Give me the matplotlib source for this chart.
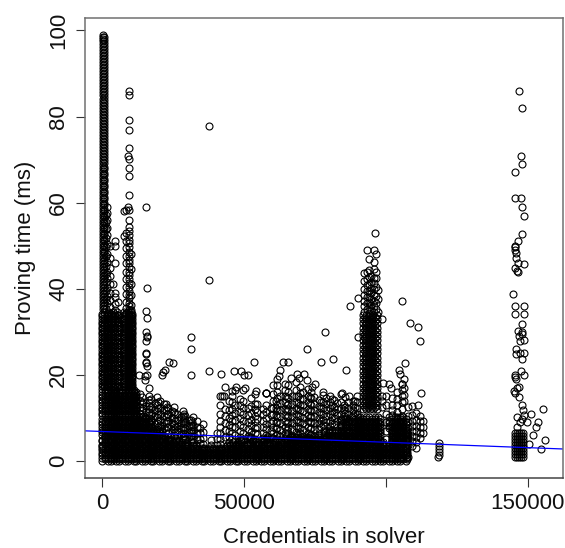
import matplotlib
matplotlib.use("Agg")
import matplotlib.pyplot as plt

plt.rcParams["font.family"] = ["Liberation Sans", "DejaVu Sans"]

# credentials are in thousands in all the lists below
intercept = 6.85
slope = -2.5e-5

outlier_x = [9.3, 9.3, 9.3, 9.3, 9.3, 9.2, 9.3, 9.3, 9.3, 9.3, 9.2, 9.3, 9.3, 15.5, 7.8, 8.2, 4.6, 4.6, 7.5, 37.5,
             4.6, 3.8, 4.5, 15.6, 15.4, 15.6, 15.5, 15.6, 15.6, 15.5, 15.4, 15.3, 15.5, 15.4, 15.8, 15.6, 15.2, 15.1, 12.9,
             23.5, 24.8, 22.1, 21.5, 20.9, 31.3, 31.3, 31.1, 37.5, 37.5, 41.8, 46.4, 48.8, 49.9, 51.2, 53.5,
             43.2, 46.8, 47.0, 50.4, 54.2, 57.7, 42.2, 42.9, 45.8,
             78.4, 72.2, 77.0, 81.2, 85.9, 87.2, 90.0, 90.2, 63.6, 65.4, 62.6, 62.3, 61.7,
             68.7, 66.5, 69.3, 71.0, 72.2, 75.0, 73.8, 57.7, 77.9, 84.4, 87.0,
             96.1, 93.3, 95.6, 96.4, 93.9, 95.9, 105.8, 108.4, 111.3, 112.0, 98.7,
             106.6, 104.7, 105.1, 106.4, 105.7, 98.8, 100.9, 101.6, 112.5, 111.3,
             118.5, 118.5, 118.5, 118.5, 118.6, 118.4,
             147.0, 147.8, 147.4, 148.0, 145.4, 145.3, 147.5, 147.8, 148.6, 147.8, 146.5, 145.6, 145.5, 145.6, 145.8, 145.8,
             146.6, 148.6, 145.3, 146.2, 146.6, 144.8, 145.4, 148.6, 145.4, 148.6, 147.8, 146.6, 148.1, 148.0,
             146.9, 147.2, 148.6, 145.8, 145.7, 147.2, 148.6, 148.1, 147.4, 148.6, 145.3, 145.3, 145.8,
             146.8, 146.2, 145.0, 145.3, 146.7, 147.8, 148.3, 148.6, 146.2, 147.8, 149.8, 147.2, 146.0,
             155.3, 151.2, 153.6, 152.8, 151.9, 156.1, 154.5, 150.5]
outlier_y = [85.9, 85.1, 79.2, 76.8, 72.8, 70.9, 70.2, 68.1, 66.1, 61.9, 59.0, 58.2, 55.9, 58.9, 58.0, 58.2, 51.0, 49.9, 52.2, 77.8,
             46.0, 41.0, 39.0, 40.2, 34.9, 33.1, 29.9, 29.1, 28.8, 27.8, 25.1, 24.9, 23.1, 22.8, 22.0, 20.0, 19.8, 18.9, 20.0,
             23.1, 22.8, 21.2, 20.6, 20.0, 28.8, 26.1, 20.0, 42.1, 21.0, 20.1, 20.9, 21.0, 20.0, 19.9, 23.1,
             17.1, 16.6, 17.3, 16.9, 16.2, 15.9, 15.2, 15.0, 16.3,
             30.0, 26.1, 23.1, 23.8, 21.1, 35.9, 37.9, 28.8, 23.0, 23.1, 21.2, 19.8, 19.0,
             20.3, 19.2, 19.2, 20.1, 18.9, 18.0, 17.3, 15.9, 16.0, 15.9, 15.2,
             53.0, 48.9, 49.0, 48.1, 47.0, 46.2, 37.1, 32.1, 31.1, 27.9, 33.0,
             22.8, 21.1, 20.2, 19.0, 18.0, 18.1, 18.0, 17.0, 15.9, 13.1,
             4.1, 3.4, 2.8, 2.2, 1.5, 0.9,
             86.0, 82.0, 70.9, 69.0, 67.1, 61.2, 61.0, 59.0, 56.9, 52.8, 51.1, 50.0, 49.7, 49.1, 48.3, 47.1,
             46.0, 45.8, 44.9, 44.1, 43.8, 38.8, 36.1, 35.9, 34.1, 34.1, 31.9, 30.1, 30.0, 29.5,
             29.0, 27.9, 28.0, 25.9, 24.9, 25.1, 25.1, 23.8, 21.0, 20.0, 20.0, 19.5, 19.0,
             17.2, 17.0, 16.2, 15.8, 14.9, 12.9, 11.9, 10.7, 10.2, 9.7, 9.0, 9.0, 8.0,
             12.1, 10.9, 9.1, 8.0, 6.1, 4.9, 2.9, 4.0]

# the tall spike near zero
spike_a = [99, 98.6, 98.1, 97.5, 96.8, 96.1, 95.4, 94.7, 94, 93.3, 92.6, 91.9, 91.2, 90.5, 89.8, 89.1, 88.4, 87.7,
           87, 86.3, 85.6, 84.9, 84.2, 83.5, 82.8, 82.1, 81.4, 80.7, 80, 79.3, 78.6, 77.9, 77.2, 76.5, 75.8, 75.1,
           74.4, 73.7, 73, 72.3, 71.6, 70.9, 70.2, 69.5, 68.8, 68.1, 67.4, 66.7, 66, 65.3, 64.6, 63.9, 63.2, 62.5,
           61.8, 61.1, 60.4, 59.7, 59, 58.3, 57.6, 56.9, 56.2, 55.5, 54.8, 54.1, 53.4, 52.7, 52, 51.3, 50.6, 49.9,
           49.2, 48.5, 47.8, 47.1, 46.4, 45.7, 45, 44.3, 43.6, 42.9, 42.2, 41.5, 40.8, 40.1, 39.4, 38.7, 38, 37.3,
           36.6, 35.9, 35.2]
spike_b = [98.4, 97.8, 97.1, 96.4, 95.8, 95, 94.4, 93.6, 93, 92.2, 91.6, 90.8, 90.2, 89.4, 88.8, 88, 87.4, 86.6,
           86, 85.2, 84.6, 83.8, 83.2, 82.4, 81.8, 81, 80.4, 79.6, 79, 78.2, 77.6, 76.8, 76.2, 75.4, 74.8, 74,
           73.4, 72.6, 72, 71.2, 70.6, 69.8, 69.2, 68.4, 67.8, 67, 66.4, 65.6, 65, 64.2, 63.6, 62.8, 62.2, 61.4,
           60.8, 60, 59.4, 58.6, 58, 57.2, 56.6, 55.8, 55.2, 54.4, 53.8, 53, 52.4, 51.6, 51, 50.2, 49.6, 48.8,
           48.2, 47.4, 46.8, 46, 45.4, 44.6, 44, 43.2, 42.6, 41.8, 41.2, 40.4, 39.8, 39, 38.4, 37.6, 37, 36.2, 35.6]
cluster_a = [12, 13, 14, 15, 16, 17, 18, 19, 20, 21, 22, 23, 24, 25, 26, 27, 28, 29, 30, 31, 32, 33, 33.9]
cluster_b = [12.5, 13.5, 14.5, 15.5, 16.5, 17.5, 18.5, 19.5, 20.5, 21.5, 22.5, 23.5, 24.5, 25.5, 26.5, 27.5, 28.5, 29.5, 30.5, 31.5, 32.5, 33.4]

column_x = [0.1, 0.5, 1.8, 2.6, 1.2, 4.4, 5.4, 8.2, 9.3, 10.2,
            91.9, 92.5, 93.1, 93.7, 94.3, 94.9, 95.5, 96.1, 96.7,
            92.4, 93.2, 94, 94.8, 95.6, 96.4, 97,
            13.2, 14.3, 16.3, 17.2, 19.4, 20.3, 22.4, 23.2, 25.3, 26.2, 28.4, 29.1, 31.3, 32.1, 34.4, 35.6, 38.3, 40.4,
            13.9, 15.4, 16.6, 18.5, 19.6, 21.6, 22.7, 24.6, 25.7, 27.6, 28.8, 30.6, 31.7, 33.5,
            41.6, 44.5, 45.7, 48.6, 49.6, 52.4, 53.7, 56.5, 57.6, 60.3, 61.7, 64.4, 65.6, 68.3, 69.7, 72.4, 73.6, 76.3, 77.7, 80.4, 81.7, 84.3, 85.6, 88.4, 89.7,
            43.4, 46.6, 51.3, 54.6, 59.4, 61.1, 62.7, 65.2, 66.8, 69.1, 70.6, 73.2, 74.7, 77.1, 78.8, 81.1, 82.8, 85.1, 86.7, 89.2,
            98.5, 100, 102, 104, 105.5, 106.2, 107.8, 109, 110.5, 112, 113]
column_y = [spike_a, spike_b,
            [59, 57.6, 56, 54.2, 52.6, 50.4, 48, 46.2, 44, 42.4, 40.2, 38.4, 36.8],
            [50, 47.2, 44.8, 43, 41, 39, 37.4, 35.8],
            [57.2, 55.6, 53.8, 51.8, 49.6, 47.6, 45.4, 43.4, 41.6, 39.6, 37.6, 35.4],
            [35, 36.4, 33.6, 38.2],
            [34, 37, 32.4],
            [53, 51.2, 49.4, 47.6, 46, 44, 42.2, 40.4, 38.8, 37, 35.6, 34.4],
            [54.4, 53.4, 52.4, 51.4, 50.6, 49.6, 48.6, 47.6, 46.8, 46, 45, 44, 43.2, 42.2, 41.4, 40.4, 39.6, 38.6, 37.8, 36.8, 36, 35],
            [48, 44.6, 41, 38.6, 36.2, 35, 33.6],
            cluster_a, cluster_b, cluster_a, cluster_b, cluster_a, cluster_b, cluster_a, cluster_b, cluster_a,
            [34.6, 36, 37.2, 38.6, 40, 41.8, 43.6], [35.2, 36.6, 38, 39.4, 40.8, 42.2, 44], [34.4, 35.8, 37, 38.2, 39.6, 41, 42.8, 44.4],
            [35, 36.2, 37.6, 39, 40.2, 41.6, 43], [34.6, 36, 37.2, 38.6, 40, 41.4, 42.6, 44.6], [35.4, 36.8, 38.4, 40.4, 42.4, 43.8], [34.6, 37.6, 39.8],
            [8, 9.5, 11, 12.5, 14, 15.5], [7.6, 9.2, 10.5, 12.2, 13.6], [8, 9, 10.6, 12, 13.4, 15, 17], [8, 9.6, 11, 12.6, 14.4],
            [7.4, 8.8, 10.2, 11.6, 13, 14.8], [7, 8.4, 9.6, 11, 12.4, 14], [7.2, 8.8, 10.2, 11.8, 13.2], [6.6, 8, 9.4, 10.8, 12.4],
            [6, 7.4, 8.6, 10, 11.4, 12.6], [5.6, 7, 8.2, 9.6, 11], [5.4, 6.6, 8, 9.2, 10.4, 11.6], [5, 6.2, 7.6, 9, 10.4],
            [4.6, 5.8, 7, 8.4, 9.6], [4.4, 5.8, 7.2, 8.4, 10.2], [4.2, 5.2, 6.4, 7.6], [4, 5.4, 6.8, 8.6], [3.6, 4.8], [3.6, 5, 6.4],
            [8.6, 10.2, 11.8, 13.2, 14.8], [8.4, 10, 11.4, 12.8], [8.8, 10, 11.4, 12.8, 14.2], [8.6, 10.4, 11.8, 13.4],
            [8, 9.4, 11, 12.4, 13.8], [7.6, 9, 10.4, 11.8, 13.2], [8, 9.4, 11, 12.6], [7.2, 8.8, 10, 11.6],
            [6.8, 8, 9.2, 10.8], [6.2, 7.6, 8.8, 10.2], [5.8, 7.2, 8.6, 9.8, 11], [5.6, 6.8, 8.2, 9.6], [5.2, 6.4, 7.8, 9], [5, 6.4, 7.8, 9.2],
            [4, 5.2, 6.4, 7.8, 9.4, 11, 13, 15.2], [4.4, 5.6, 7, 8.4, 10, 11.8, 14], [5, 6.4, 7.8, 9.2, 10.6, 12, 13.6, 15],
            [5.6, 7, 8.4, 10, 11.4, 13, 14.4], [5, 6.6, 8, 9.4, 10.8, 12.4, 14, 16.4], [5.6, 6.8, 8.4, 9.6, 11.2, 12.8, 14.6],
            [5, 6.4, 7.6, 9, 10.4, 12, 13.2, 15.6], [5.4, 6.6, 8, 9.2, 10.8, 12], [5, 6, 7.4, 8.6, 10, 11.4, 13, 15.8],
            [5.4, 6.6, 8, 9.4, 10.8, 12.4, 14, 15.6, 17.6], [5, 6.2, 7.6, 9, 10.2, 11.8, 13, 14.6, 16, 17.6],
            [5.4, 6.6, 8, 9.4, 10.6, 12, 13.6, 15, 16.4, 18], [5, 6.4, 7.8, 9, 10.4, 12, 13.2, 14.6, 16, 17.6],
            [5.6, 6.8, 8.2, 9.6, 11, 12.2, 13.8, 15.2, 16.6, 18.4], [5, 6.4, 7.6, 9, 10.4, 11.8, 13, 14.4, 15.8, 17.2],
            [5.4, 6.6, 8, 9.4, 10.6, 12, 13.6, 15, 16.8], [5, 6.2, 7.6, 9, 10.2, 11.6, 13, 14.6, 16], [6, 7.4, 8.8, 10, 11.4, 12.8, 14.2],
            [8.4, 9.6, 11, 12.4, 13.8, 15.4], [8.2, 9.4, 10.8, 12.2, 13.6, 15], [8.6, 10, 11.4, 12.6, 14.2],
            [8.4, 9.6, 11, 12.4, 13.8, 15.6], [8.6, 10, 11.2, 12.6, 14.8], [10.6, 11.8, 13, 14], [11, 12.4, 13.6, 15.2],
            [5.6, 7.2, 8.8, 10.4, 12], [6, 7.8, 9.6, 11.2, 13], [5.8, 7.4, 9, 10.6, 12.2], [6.2, 8, 9.8, 11.4, 13.2], [5.6, 7, 8.8, 10.6, 12.4], [6, 7.4, 9, 10.6, 12.2, 14],
            [5.8, 7.2, 8.8, 10.4, 11.8, 13.4, 15], [6, 7.2, 8.8, 10.2, 11.6, 13, 14.8], [5.8, 7.4, 8.8, 10.4, 11.6, 13.2, 15], [6, 7.6, 9, 10.4, 12, 13.4, 15],
            [5.8, 7.2, 8.8, 10, 11.6, 13, 14.4, 16], [6, 7.4, 9, 10.2, 11.8, 13.2, 14.8], [5.8, 7.4, 8.8, 10.4, 11.8, 13.2, 14.8], [6.6, 8, 9.4, 10.8, 12.2, 13.6],
            [9, 10.4, 11.8, 13.2, 14.6], [8.8, 10.2, 11.6, 13, 14.4], [9.2, 10.6, 12, 13.4], [9, 10.4, 11.8, 13], [9.4, 10.8, 12.2, 13.6], [11.2, 12.6, 14],
            [12.5, 14, 15.2], [3, 5, 7, 9, 11, 13, 15], [10.6, 11.8, 13, 14.6], [10.2, 11.4, 13, 14.4, 16], [10.4, 12, 13.6, 15, 16.6, 18], [14, 15.4, 17],
            [1, 3.6, 5, 6.2, 7.6, 9, 10.4, 12.6], [3.4, 4.6, 5.8, 7, 8.2, 9.4, 10.6, 12.8], [3, 4.4, 5.6, 7, 8.2, 9.6, 11.2], [5.4, 6.6, 7.8, 9.2, 10.4], [6.6, 8, 9.4]]

band_a = [0, 2, 3, 5, 6, 8, 9, 11, 12, 14, 15, 17, 18, 20, 21, 23, 24, 26, 27, 29, 30, 32, 33, 35, 36, 38, 39, 41, 42, 44, 45, 47, 48, 50, 51, 53,
          54, 56, 57, 59, 60, 62, 63, 65, 66, 68, 69, 71, 72, 74, 75, 77, 78, 80, 81, 83, 84, 86, 87, 89, 90, 92, 93, 95, 96, 98, 99, 101, 102, 104, 105, 107]
band_b = [1, 3, 4, 6, 7, 9, 10, 12, 13, 15, 16, 18, 19, 21, 22, 24, 25, 27, 28, 30, 31, 33, 34, 36, 37, 39, 40, 42, 43, 45, 46, 48, 49, 51, 52, 54,
          55, 57, 58, 60, 61, 63, 64, 66, 67, 69, 70, 72, 73, 75, 76, 78, 79, 81, 82, 84, 85, 87, 88, 90, 91, 93, 94, 96, 97, 99, 100, 102, 103, 105, 106, 107.4]
band_c = [0, 2, 3, 5, 6, 8, 9, 11, 12, 14, 15, 17, 18, 20, 21, 23, 24, 26, 27, 29, 30, 32, 33, 44, 45, 47, 48, 50, 51, 53,
          54, 56, 57, 59, 60, 62, 63, 65, 66, 68, 69, 71, 72, 74, 75, 77, 78, 80, 81, 83, 84, 86, 87, 89, 90, 92, 93, 95, 96, 98, 99, 101, 102, 104, 105, 107]
band_d = [1, 3, 4, 6, 7, 9, 10, 12, 13, 15, 16, 18, 19, 21, 22, 24, 25, 27, 28, 30, 46, 48, 49, 51, 52, 54,
          55, 57, 58, 60, 61, 63, 64, 66, 67, 69, 70, 72, 73, 75, 76, 78, 79, 81, 82, 84, 85, 87, 88, 90, 91, 93, 94, 96, 97, 99, 102, 103, 105, 106, 107.4]
band_e = [0, 2, 3, 5, 6, 8, 9, 11, 12, 14, 15, 17, 18, 20, 21, 23, 24, 26, 27, 49, 53, 57, 61,
          63, 65, 66, 68, 69, 71, 72, 74, 75, 77, 78, 80, 81, 83, 84, 86, 87, 89, 90, 92, 93, 95, 96, 98, 102, 104, 105, 107]
band_f = [1, 3, 4, 6, 7, 9, 10, 12, 13, 15, 16, 18, 19, 21, 22, 24, 52, 58,
          66, 67, 69, 70, 72, 73, 75, 76, 78, 79, 81, 82, 84, 85, 87, 88, 90, 91, 93, 94, 96, 97, 102, 103, 105, 106, 107.4]
band_g = [0, 2, 3, 5, 6, 8, 9, 11, 12, 14, 15, 17, 18, 20, 21, 78, 80, 81, 83, 84, 86, 87, 89, 90, 92, 93, 95, 96, 98, 102, 104, 105, 107]
band_h = [1, 3, 4, 6, 7, 9, 10, 12, 13, 15, 16, 18, 19, 80, 82, 84, 85, 87, 88, 90, 91, 93, 94, 96, 97, 102, 103, 105, 106, 107.4]
band_i = [0, 2, 3, 5, 6, 8, 9, 11, 12, 14, 15, 17, 84, 86, 87, 89, 90, 92, 93, 95, 96, 98, 102, 104, 105, 107]
band_j = [1, 3, 4, 6, 7, 9, 10, 12, 13, 15, 88, 90, 91, 93, 94, 96, 97, 101, 103, 105, 106]
left_a = [0, 2, 3, 5, 6, 8, 9, 11, 12]
left_b = [1, 3, 4, 6, 7, 9, 10, 11]
left_c = [0, 1.5, 3, 4.5, 8, 9.5, 10.5]
left_d = [0.5, 2, 3.6, 5.2, 7.5, 9, 10.2]

row_x = [band_a, band_b, band_c, band_d, band_e, band_f, band_g, band_h, band_i, band_j, left_a, left_b, left_c, left_d]
row_y = [[0.1, 0.7, 1.3, 1.9, 2.5, 3.1], [0.4, 1.0, 1.6, 2.2, 2.8], [3.7, 3.4], [4.3, 4.0], [4.9, 4.6], [5.5, 5.2], [6.1, 6.7, 7.3], [5.8, 6.4, 7.0],
         [7.9, 8.5, 9.1, 9.7], [7.6, 8.2, 8.8, 9.4, 10.3],
         [10.6, 11.2, 11.8, 12.4, 13, 13.6, 14.2, 14.8, 15.4, 16], [10.9, 11.5, 12.1, 12.7, 13.3, 13.9, 14.5, 15.1, 15.7, 16.4],
         [16.8, 17.4, 18, 18.6, 19.2, 19.8, 20.4, 21, 21.6, 22.2, 22.8, 23.4, 24, 24.6, 25.2, 25.8, 26.4, 27, 27.6, 28.2, 28.8, 29.4, 30, 30.6, 31.2, 31.8, 32.4, 33, 33.6, 34.2],
         [17.1, 17.7, 18.3, 18.9, 19.5, 20.1, 20.7, 21.3, 21.9, 22.5, 23.1, 23.7, 24.3, 24.9, 25.5, 26.1, 26.7, 27.3, 27.9, 28.5, 29.1, 29.7, 30.3, 30.9, 31.5, 32.1, 32.7, 33.3, 33.9, 34.6]]

# block of runs at the right hand side
block_x = [145.3, 146.1, 146.9, 147.6, 148.2]
block_a = [0.9, 1.6, 2.3, 3.0, 3.7, 4.4, 5.1, 5.8, 6.5]

xs = list(outlier_x)
ys = list(outlier_y)
for x, col in zip(column_x, column_y):
    xs += [x] * len(col)
    ys += col
for row, levels in zip(row_x, row_y):
    for y in levels:
        xs += row
        ys += [y] * len(row)
for y in block_a:
    xs += block_x
    ys += [y] * len(block_x)

fig = plt.figure(figsize=(5.65, 5.48), dpi=100)
ax = fig.add_axes([85 / 565, 70 / 548, (562.5 - 85) / 565, (478 - 18) / 548])

ax.plot([x * 1000 for x in xs], ys, "o", mfc="none", mec="black", ms=5, mew=0.8)
ax.axline((0, intercept), slope=slope, color="#0000ff", lw=0.9)

ax.set_xlim(-6100, 162200)
ax.set_ylim(-3.95, 102.9)
ax.set_xticks([0, 50000, 100000, 150000])
ax.set_xticklabels(["0", "50000", "", "150000"])
ax.set_yticks([0, 20, 40, 60, 80, 100])
ax.tick_params(axis="both", length=6.5, width=0.8, color="#333333", labelsize=16, labelcolor="#111111")
ax.tick_params(axis="x", pad=4.5)
ax.tick_params(axis="y", pad=5)
for lab in ax.get_yticklabels():
    lab.set_rotation(90)
    lab.set_va("center")

for side in ax.spines:
    ax.spines[side].set_linewidth(1.1)
    ax.spines[side].set_color("#707070")
ax.spines["bottom"].set_color("#444444")

ax.set_xlabel("Credentials in solver", fontsize=16, color="#111111", labelpad=9)
ax.set_ylabel("Proving time (ms)", fontsize=16, color="#111111", labelpad=9)

fig.savefig("out.png", dpi=100)
